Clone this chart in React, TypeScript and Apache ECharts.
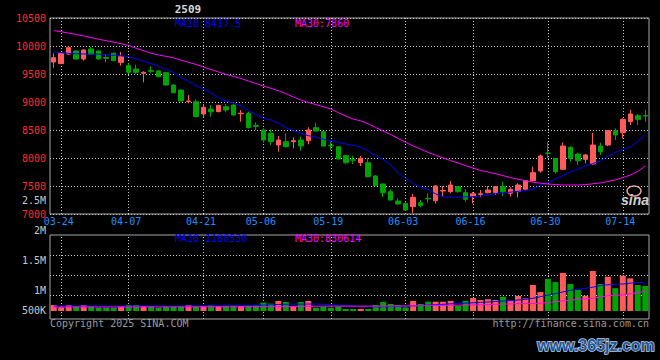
import React, { useEffect, useRef } from 'react';
import * as echarts from 'echarts';

const title = '2509';
const dates = [
  '03-21','03-24','03-25','03-26','03-27','03-28','03-31','04-01','04-02','04-03',
  '04-07','04-08','04-09','04-10','04-11','04-14','04-15','04-16','04-17','04-18',
  '04-21','04-22','04-23','04-24','04-25','04-28','04-29','04-30','05-06','05-07',
  '05-08','05-09','05-12','05-13','05-14','05-15','05-16','05-19','05-20','05-21',
  '05-22','05-23','05-26','05-27','05-28','05-29','05-30','06-03','06-04','06-05',
  '06-06','06-09','06-10','06-11','06-12','06-13','06-16','06-17','06-18','06-19',
  '06-20','06-23','06-24','06-25','06-26','06-27','06-30','07-01','07-02','07-03',
  '07-04','07-07','07-08','07-09','07-10','07-11','07-14','07-15','07-16','07-17',
];
const xTickLabels = ['03-24','04-07','04-21','05-06','05-19','06-03','06-16','06-30','07-14'];

const opens = [
  9714, 9685, 9857, 9911, 9768, 9946, 9911, 9795, 9869, 9708,
  9649, 9589, 9512, 9560, 9554, 9524, 9304, 9214, 9006, 9006,
  8786, 8875, 8827, 8916, 8946, 8790, 8798, 8580, 8500, 8440,
  8232, 8292, 8290, 8321, 8309, 8542, 8470, 8225, 8202, 8042,
  7970, 7917, 7917, 7679, 7536, 7399, 7232, 7190, 7131, 7200,
  7280, 7238, 7410, 7399, 7488, 7381, 7310, 7350, 7381, 7381,
  7488, 7369, 7399, 7440, 7595, 7768, 8090, 7994, 7798, 8190,
  8071, 7976, 7893, 8214, 8232, 8488, 8452, 8649, 8756, 8760,
];
const closes = [
  9792, 9869, 9970, 9768, 9929, 9851, 9768, 9780, 9738, 9810,
  9530, 9530, 9530, 9548, 9452, 9304, 9167, 9018, 9018, 8738,
  8905, 8827, 8940, 8857, 8768, 8800, 8542, 8565, 8321, 8292,
  8321, 8202, 8310, 8214, 8500, 8482, 8214, 8215, 7982, 7917,
  7960, 7994, 7667, 7506, 7381, 7250, 7179, 7071, 7298, 7150,
  7270, 7500, 7420, 7518, 7399, 7262, 7360, 7360, 7428, 7488,
  7399, 7440, 7518, 7595, 7738, 8036, 8080, 7756, 8214, 7994,
  7952, 8054, 8232, 8113, 8488, 8411, 8690, 8786, 8690, 8750,
];
const lows = [
  9613, 9675, 9840, 9760, 9738, 9840, 9760, 9708, 9730, 9649,
  9500, 9500, 9351, 9512, 9440, 9290, 9160, 9010, 8976, 8726,
  8726, 8738, 8820, 8815, 8760, 8649, 8530, 8500, 8274, 8232,
  8113, 8190, 8173, 8131, 8244, 8470, 8200, 8143, 7975, 7893,
  7893, 7857, 7655, 7500, 7298, 7240, 7170, 7060, 7012, 7119,
  7202, 7190, 7298, 7369, 7380, 7220, 7190, 7298, 7369, 7340,
  7321, 7310, 7298, 7430, 7577, 7738, 8000, 7720, 7786, 7935,
  7875, 7905, 7875, 8054, 8214, 8321, 8351, 8589, 8589, 8649,
];
const highs = [
  9869, 9880, 10000, 9925, 9940, 9988, 9920, 9857, 9887, 9893,
  9690, 9667, 9548, 9637, 9570, 9540, 9310, 9220, 9125, 9048,
  8964, 8946, 8950, 8964, 8955, 8857, 8827, 8637, 8530, 8512,
  8393, 8440, 8369, 8381, 8548, 8631, 8480, 8292, 8210, 8050,
  8036, 8036, 7994, 7696, 7545, 7440, 7280, 7220, 7357, 7250,
  7369, 7518, 7500, 7589, 7500, 7440, 7390, 7428, 7500, 7500,
  7577, 7476, 7548, 7600, 7845, 8065, 8286, 8000, 8280, 8214,
  8095, 8071, 8452, 8274, 8490, 8530, 8708, 8860, 8786, 8860,
];
const ma10 = [
  9895, 9880, 9868, 9862, 9858, 9855, 9852, 9845, 9835, 9825,
  9810, 9770, 9730, 9688, 9640, 9580, 9525, 9440, 9370, 9290,
  9230, 9160, 9080, 9015, 8985, 8930, 8850, 8780, 8710, 8680,
  8620, 8540, 8490, 8440, 8400, 8370, 8335, 8305, 8280, 8250,
  8225, 8195, 8120, 8040, 7970, 7880, 7730, 7640, 7540, 7480,
  7435, 7360, 7305, 7300, 7300, 7305, 7310, 7320, 7340, 7365,
  7375, 7390, 7405, 7420, 7440, 7520, 7560, 7625, 7690, 7750,
  7800, 7860, 7900, 7950, 8030, 8100, 8150, 8195, 8300, 8417.5,
];
const ma30 = [
  10275, 10255, 10230, 10205, 10180, 10150, 10120, 10095, 10070, 10040,
  10010, 9960, 9915, 9870, 9840, 9815, 9790, 9745, 9710, 9670,
  9625, 9580, 9535, 9495, 9455, 9420, 9375, 9330, 9285, 9245,
  9200, 9150, 9090, 9035, 8990, 8955, 8915, 8875, 8810, 8750,
  8695, 8665, 8610, 8545, 8480, 8420, 8350, 8280, 8215, 8160,
  8100, 8050, 8000, 7955, 7910, 7865, 7820, 7777, 7750, 7720,
  7685, 7650, 7620, 7595, 7570, 7550, 7535, 7525, 7518, 7518,
  7518, 7525, 7540, 7555, 7580, 7610, 7650, 7695, 7760, 7860,
];
const volumes = [
  252000, 154000, 252000, 210000, 252000, 210000, 140000, 140000, 140000, 210000,
  252000, 252000, 210000, 210000, 140000, 210000, 210000, 210000, 252000, 210000,
  210000, 252000, 210000, 210000, 252000, 210000, 252000, 252000, 350000, 308000,
  420000, 378000, 210000, 378000, 420000, 140000, 182000, 140000, 182000, 84000,
  84000, 84000, 84000, 252000, 378000, 294000, 252000, 150000, 420000, 294000,
  390000, 390000, 390000, 425000, 210000, 425000, 545000, 462000, 495000, 462000,
  595000, 462000, 635000, 530000, 1092000, 795000, 1344000, 1215000, 1600000, 1134000,
  882000, 640000, 1680000, 1134000, 1440000, 960000, 1484000, 1372000, 1092000, 1050000,
];
const volMa10 = [
  205000, 205000, 208000, 210000, 210000, 208000, 205000, 203000, 200000, 200000,
  205000, 210000, 212000, 210000, 205000, 200000, 200000, 205000, 210000, 212000,
  215000, 218000, 220000, 222000, 225000, 228000, 230000, 235000, 250000, 262000,
  275000, 282000, 285000, 288000, 292000, 290000, 282000, 260000, 240000, 225000,
  210000, 195000, 182000, 178000, 180000, 185000, 192000, 200000, 215000, 230000,
  245000, 262000, 281000, 300000, 315000, 330000, 345000, 360000, 378000, 400000,
  420000, 440000, 460000, 490000, 533000, 600000, 670000, 730000, 800000, 870000,
  910000, 950000, 1000000, 1064000, 1100000, 1120000, 1134000, 1170000, 1200000, 1180530,
];
const volMa30 = [
  165000, 165000, 166000, 166000, 167000, 167000, 168000, 168000, 168000, 169000,
  169000, 170000, 170000, 170000, 170000, 171000, 171000, 172000, 172000, 172000,
  173000, 173000, 174000, 174000, 175000, 176000, 177000, 178000, 180000, 183000,
  186000, 190000, 193000, 196000, 199000, 201000, 202000, 203000, 203000, 203000,
  203000, 204000, 205000, 206000, 208000, 210000, 212000, 214000, 216000, 220000,
  224000, 228000, 232000, 237000, 242000, 248000, 254000, 262000, 270000, 280000,
  290000, 298000, 306000, 312000, 315000, 325000, 355000, 390000, 425000, 460000,
  485000, 510000, 535000, 585000, 640000, 660000, 675000, 720000, 770000, 830614,
];
const volGridValues = [672000, 1512000, 2352000];
const volTickLabels = ['', '500K', '1M', '1.5M', '2M', '2.5M'];

const MONO = '"DejaVu Sans Mono", monospace';
const UP = '#ff5b5b';
const DOWN = '#00a300';
const GRIDC = '#c8c8c8';
const FRAME = '#a8a8a8';

export default function App() {
  const ref = useRef<HTMLDivElement>(null);
  useEffect(() => {
    document.body.style.margin = '0';
    document.body.style.background = '#000';
    const chart = echarts.init(ref.current!, null, { renderer: 'svg' });
    const last = dates.length - 1;
    const candleData = dates.map((_, i) => [opens[i], closes[i], lows[i], highs[i]]);
    const volData = volumes.map((v, i) => ({
      value: v,
      itemStyle: { color: closes[i] >= opens[i] ? UP : DOWN },
    }));
    const vLines = xTickLabels.map((d) => ({ xAxis: d }));
    const dotted = { color: GRIDC, type: [1, 2] as any, width: 1 };
    const mk = (data: any[]) => ({
      silent: true,
      symbol: ['none', 'none'],
      z: 1,
      label: { show: false },
      lineStyle: dotted,
      emphasis: { disabled: true },
      data,
    });
    const txt = (x: number, y: number, text: string, fill: string, align = 'left', extra: any = {}) => ({
      type: 'text',
      x,
      y,
      silent: true,
      style: {
        text,
        fill,
        font: `10px ${MONO}`,
        textAlign: align,
        textVerticalAlign: 'middle',
        align,
        verticalAlign: 'middle',
        ...extra,
      },
    });

    chart.setOption({
      animation: false,
      backgroundColor: '#000',
      grid: [
        { left: 50, right: 11, top: 18, height: 196, show: true, borderColor: FRAME, borderWidth: 1 },
        { left: 50, right: 11, top: 235, height: 84, show: true, borderColor: FRAME, borderWidth: 1 },
        { left: 50, right: 11, top: 200, height: 150, show: false },
      ],
      xAxis: [
        {
          type: 'category', gridIndex: 0, data: dates, boundaryGap: true,
          axisLine: { show: false }, axisTick: { show: false }, splitLine: { show: false },
          axisLabel: {
            interval: (_i: number, v: string) => xTickLabels.includes(v),
            color: '#1e8fff', fontSize: 10, fontFamily: MONO, margin: 2,
            padding: [0, 5, 0, 0],
          },
        },
        { type: 'category', gridIndex: 1, data: dates, boundaryGap: true, show: false },
        { type: 'value', gridIndex: 2, min: 0, max: 1, show: false },
      ],
      yAxis: [
        {
          type: 'value', gridIndex: 0, min: 7000, max: 10500, interval: 500,
          axisLine: { show: false }, axisTick: { show: false },
          axisLabel: {
            color: '#ff2a2a', fontSize: 10, fontFamily: MONO, margin: 4,
            formatter: (v: number) => String(v),
          },
          splitLine: { show: true, lineStyle: dotted },
        },
        { type: 'value', gridIndex: 1, min: -336000, max: 3192000, show: false },
        {
          type: 'value', gridIndex: 2, min: 0, max: 2500000, interval: 500000,
          axisLine: { show: false }, axisTick: { show: false }, splitLine: { show: false },
          axisLabel: {
            color: '#c8c8c8', fontSize: 10, fontFamily: MONO, margin: 4,
            formatter: (v: number) => {
              const i = Math.round(v / 500000);
              const t = volTickLabels[i] || '';
              return i === 1 ? `{lift|${t}}` : t;
            },
            rich: {
              lift: { color: '#c8c8c8', fontSize: 10, fontFamily: MONO, padding: [0, 0, 20, 0] },
            },
          },
        },
      ],
      series: [
        {
          type: 'candlestick', xAxisIndex: 0, yAxisIndex: 0, data: candleData, barWidth: 5,
          silent: true,
          itemStyle: { color: UP, color0: DOWN, borderColor: UP, borderColor0: DOWN, borderWidth: 1 },
          markLine: mk(vLines),
        },
        {
          type: 'line', xAxisIndex: 0, yAxisIndex: 0, data: ma10, showSymbol: false, silent: true,
          lineStyle: { color: '#0000ff', width: 1 }, z: 3,
        },
        {
          type: 'line', xAxisIndex: 0, yAxisIndex: 0, data: ma30, showSymbol: false, silent: true,
          lineStyle: { color: '#ff00ff', width: 1 }, z: 3,
        },
        {
          type: 'bar', xAxisIndex: 1, yAxisIndex: 1, data: volData, barWidth: 6, silent: true,
          markLine: mk([...vLines, ...volGridValues.map((v) => ({ yAxis: v }))]),
        },
        {
          type: 'line', xAxisIndex: 1, yAxisIndex: 1, data: volMa10, showSymbol: false, silent: true,
          lineStyle: { color: '#0000ff', width: 1 }, z: 3,
        },
        {
          type: 'line', xAxisIndex: 1, yAxisIndex: 1, data: volMa30, showSymbol: false, silent: true,
          lineStyle: { color: '#ff00ff', width: 1 }, z: 3,
        },
        { type: 'line', xAxisIndex: 2, yAxisIndex: 2, data: [], silent: true },
      ],
      graphic: [
        txt(188, 9.5, title, '#d8d8d8', 'center', { font: `bold 11px ${MONO}` }),
        txt(175, 23, `MA10:${ma10[last]}`, '#0000ff'),
        txt(295, 23, `MA30:${ma30[last]}`, '#ff00ff'),
        txt(175, 238.5, `MA10:${volMa10[last]}`, '#0000ff'),
        txt(295, 238.5, `MA30:${volMa30[last]}`, '#ff00ff'),
        txt(50, 323, 'Copyright 2025 SINA.COM', '#9a9a9a'),
        txt(649, 323, 'http://finance.sina.com.cn', '#9a9a9a', 'right'),
        {
          type: 'ellipse', silent: true,
          shape: { cx: 634, cy: 191, rx: 7, ry: 5 },
          style: { fill: 'none', stroke: '#f0a0a0', lineWidth: 1.5 },
        },
        txt(635, 200, 'sina', '#d0d0d0', 'center', { font: `italic bold 14px "Liberation Sans", sans-serif` }),
        txt(596, 345, 'www.365jz.com', '#2a5590', 'center', {
          font: `bold 16px "Liberation Sans", sans-serif`, stroke: '#b8d0ee', lineWidth: 1.5,
        }),
      ],
    });
    return () => chart.dispose();
  }, []);
  return <div ref={ref} style={{ width: 660, height: 360, background: '#000' }} />;
}
